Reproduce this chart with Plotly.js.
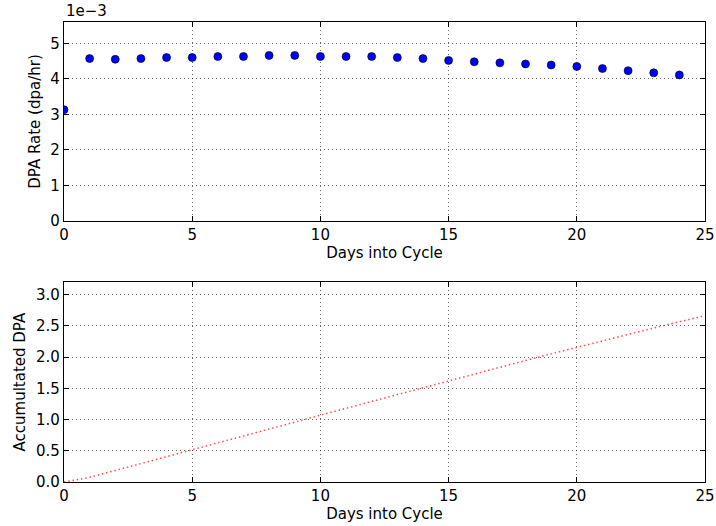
<!DOCTYPE html>
<html>
<head>
<meta charset="utf-8">
<script src="https://cdn.plot.ly/plotly-3.0.1.min.js"></script>
<style>html,body{margin:0;padding:0;background:#fff;}#chart{width:716px;height:526px;}</style>
</head>
<body>
<div id="chart"></div>
<script>
// Data
const days = [0,1,2,3,4,5,6,7,8,9,10,11,12,13,14,15,16,17,18,19,20,21,22,23,24];
const dpaRate = [0.00313,0.00457,0.00455,0.00457,0.00460,0.00460,0.00463,0.00463,0.00466,0.00466,
                 0.00463,0.00463,0.00463,0.00460,0.00457,0.00452,0.00448,0.00445,0.00442,0.00439,
                 0.00435,0.00429,0.00423,0.00417,0.00411];
const accDays = [0,1,2,3,4,5,6,7,8,9,10,11,12,13,14,15,16,17,18,19,20,21,22,23,24,25];
const accDPA = [0,0.075,0.185,0.294,0.404,0.514,0.625,0.736,0.847,0.959,1.071,1.182,1.293,1.404,
                1.515,1.624,1.733,1.840,1.947,2.053,2.159,2.263,2.366,2.468,2.568,2.666];
const xTicks = [0,5,10,15,20,25];
const rateTickVals = [0,0.001,0.002,0.003,0.004,0.005];
const rateTickText = ['0','1','2','3','4','5'];
const accTickVals = [0,0.5,1.0,1.5,2.0,2.5,3.0];

const FONT = 'DejaVu Sans, sans-serif';
const fs = 15;

const traces = [
  {x: days, y: dpaRate, type: 'scatter', mode: 'markers', xaxis: 'x', yaxis: 'y',
   marker: {color: '#0000ff', size: 8, line: {color: '#000', width: 0.6}}, hoverinfo: 'x+y'},
  {x: accDays, y: accDPA, type: 'scatter', mode: 'lines', xaxis: 'x2', yaxis: 'y2',
   line: {color: 'rgba(255,0,0,0.7)', width: 1.5, dash: '1.5px,2.8px'}}
];

function xa(anchor) {
  return {anchor: anchor, range: [0,25], tickvals: xTicks, ticks: 'inside', ticklen: 5,
    tickcolor: '#000', showline: true, linecolor: '#000', linewidth: 1.2, mirror: 'ticks',
    showgrid: true, gridcolor: 'rgba(0,0,0,0.6)', griddash: '1px,3px', gridwidth: 1,
    zeroline: false, tickfont: {family: FONT, size: fs, color: '#000'},
    title: {text: 'Days into Cycle', font: {family: FONT, size: fs, color: '#000'}, standoff: 4},
    domain: [0,1]};
}
function ya(anchor, dom) {
  return {anchor: anchor, domain: dom, ticks: 'inside', ticklen: 5, tickcolor: '#000',
    showline: true, linecolor: '#000', linewidth: 1.2, mirror: 'ticks',
    showgrid: true, gridcolor: 'rgba(0,0,0,0.6)', griddash: '1px,3px', gridwidth: 1,
    zeroline: false, tickfont: {family: FONT, size: fs, color: '#000'}};
}

const yax1 = ya('x', [0.5674, 1]);
yax1.range = [0, 0.0056];
yax1.tickvals = rateTickVals;
yax1.ticktext = rateTickText;
yax1.title = {text: 'DPA Rate (dpa/hr)', font: {family: FONT, size: fs, color: '#000'}, standoff: 6};

const yax2 = ya('x2', [0, 0.4341]);
yax2.range = [0, 3.2];
yax2.tickvals = accTickVals;
yax2.tickformat = '.1f';
yax2.title = {text: 'Accumultated DPA', font: {family: FONT, size: fs, color: '#000'}, standoff: 6};

const layout = {
  width: 716, height: 526,
  margin: {l: 64, r: 11, t: 22, b: 44},
  paper_bgcolor: '#fff', plot_bgcolor: '#fff',
  showlegend: false,
  xaxis: xa('y'), yaxis: yax1,
  xaxis2: xa('y2'), yaxis2: yax2,
  annotations: [{text: '1e\u22123', xref: 'paper', yref: 'paper', x: 0, y: 1, xanchor: 'left',
    yanchor: 'bottom', showarrow: false, yshift: 0, font: {family: FONT, size: fs, color: '#000'}}]
};

Plotly.newPlot('chart', traces, layout, {displayModeBar: false, staticPlot: true});
</script>
</body>
</html>
